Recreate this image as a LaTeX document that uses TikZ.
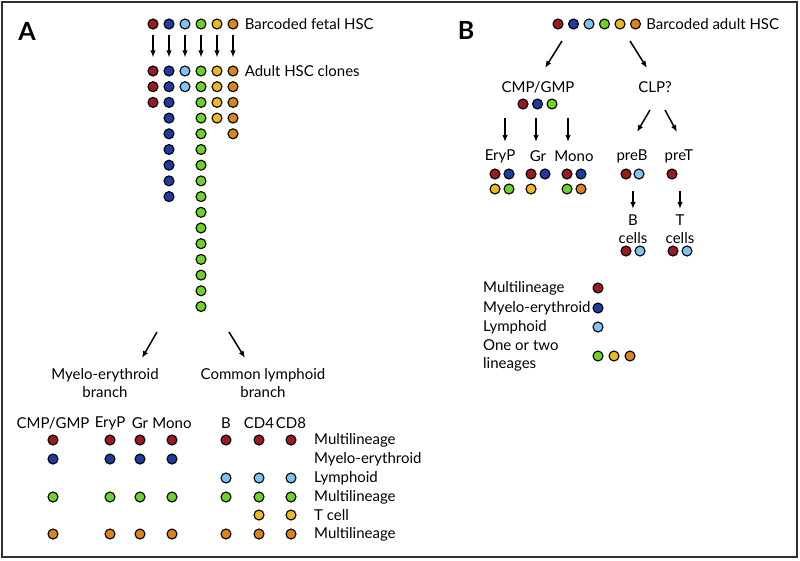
\documentclass[tikz,border=0pt]{standalone}
\usepackage{fontspec}
\setmainfont{Lato}
\usepackage{xcolor}
\usetikzlibrary{positioning, calc, arrows, arrows.meta}

\definecolor{cRed}{HTML}{9A1A22}
\definecolor{cBlue}{HTML}{1D3C9E}
\definecolor{cLBlue}{HTML}{7DC5F0}
\definecolor{cGreen}{HTML}{6CD228}
\definecolor{cYel}{HTML}{EAB920}
\definecolor{cOra}{HTML}{D9841D}
\definecolor{frameg}{HTML}{303030}

\begin{document}
\begin{tikzpicture}[x=1pt, y=-1pt]

		\tikzstyle{dot}=[circle, draw=black, line width=1.1pt, minimum size=10pt, inner sep=0pt]
		\tikzstyle{lbl}=[inner sep=0pt, font=\fontsize{15}{18}\selectfont]
		\tikzstyle{arr}=[-{Latex[length=7pt, width=5.5pt]}, line width=1.5pt]
		\tikzstyle{panel}=[font=\bfseries\fontsize{25}{27}\selectfont, inner sep=0pt]

		\useasboundingbox (0,0) rectangle (800,560);
		\draw [line width=2.4pt, frameg] (2,2) rectangle (797,557);

		%% panel A
		\node (pA) at (27,31) [panel] {A};

		\node (f1) at (153,24) [dot, fill=cRed] {};
		\node (f2) at (169,24) [dot, fill=cBlue] {};
		\node (f3) at (185,24) [dot, fill=cLBlue] {};
		\node (f4) at (201,24) [dot, fill=cGreen] {};
		\node (f5) at (217,24) [dot, fill=cYel] {};
		\node (f6) at (233,24) [dot, fill=cOra] {};
		\node (tfetal) [lbl, right=6pt of f6] {Barcoded fetal HSC};

		\foreach \i in {1,...,3} \node (rd\i) at (153, 55.3+15.7*\i) [dot, fill=cRed] {};
		\foreach \i in {1,...,9} \node (bl\i) at (169, 55.3+15.7*\i) [dot, fill=cBlue] {};
		\foreach \i in {1,...,2} \node (lb\i) at (185, 55.3+15.7*\i) [dot, fill=cLBlue] {};
		\foreach \i in {1,...,16} \node (gr\i) at (201, 55.3+15.7*\i) [dot, fill=cGreen] {};
		\foreach \i in {1,...,4} \node (ye\i) at (217, 55.3+15.7*\i) [dot, fill=cYel] {};
		\foreach \i in {1,...,5} \node (or\i) at (233, 55.3+15.7*\i) [dot, fill=cOra] {};
		\node (tadult) [lbl, right=6pt of or1] {Adult HSC clones};

		\draw [arr, shorten <=5pt, shorten >=8pt] (f1) -- (rd1);
		\draw [arr, shorten <=5pt, shorten >=8pt] (f2) -- (bl1);
		\draw [arr, shorten <=5pt, shorten >=8pt] (f3) -- (lb1);
		\draw [arr, shorten <=5pt, shorten >=8pt] (f4) -- (gr1);
		\draw [arr, shorten <=5pt, shorten >=8pt] (f5) -- (ye1);
		\draw [arr, shorten <=5pt, shorten >=8pt] (f6) -- (or1);

		\coordinate (myS) at (157,332);
		\coordinate (myE) at (142,358);
		\coordinate (clS) at (229,332);
		\coordinate (clE) at (245,358);
		\draw [arr] (myS) -- (myE);
		\draw [arr] (clS) -- (clE);
		\node (tmyelo) at (105,383) [lbl, align=center] {Myelo-erythroid\\branch};
		\node (tclp) at (263,383) [lbl, align=center] {Common lymphoid\\branch};

		%% table
		\node (hCMP) at (53,423) [lbl] {CMP/GMP};
		\node (hEry) at (110,423) [lbl] {EryP};
		\node (hGr) at (140,423) [lbl] {Gr};
		\node (hMono) at (172,423) [lbl] {Mono};
		\node (hB) at (226,423) [lbl] {B};
		\node (hCD4) at (259,423) [lbl] {CD4};
		\node (hCD8) at (291,423) [lbl] {CD8};

		\foreach \x [count=\k] in {53,110,140,172,226,259,291} {
			\node (ta\k) at (\x,440) [dot, fill=cRed] {};
			\node (td\k) at (\x,497) [dot, fill=cGreen] {};
			\node (tf\k) at (\x,534) [dot, fill=cOra] {};
		}
		\foreach \x [count=\k] in {53,110,140,172} \node (tb\k) at (\x,459) [dot, fill=cBlue] {};
		\foreach \x [count=\k] in {226,259,291} \node (tc\k) at (\x,478) [dot, fill=cLBlue] {};
		\foreach \x [count=\k] in {259,291} \node (te\k) at (\x,515) [dot, fill=cYel] {};

		\node (rl1) at (314,440) [lbl, anchor=west] {Multilineage};
		\node (rl2) at (314,459) [lbl, anchor=west] {Myelo-erythroid};
		\node (rl3) at (314,478) [lbl, anchor=west] {Lymphoid};
		\node (rl4) at (314,497) [lbl, anchor=west] {Multilineage};
		\node (rl5) at (314,515) [lbl, anchor=west] {T cell};
		\node (rl6) at (314,534) [lbl, anchor=west] {Multilineage};

		%% panel B
		\node (pB) at (466,30) [panel] {B};

		\node (h1) at (558,24) [dot, fill=cRed] {};
		\node (h2) at (573.5,24) [dot, fill=cBlue] {};
		\node (h3) at (589,24) [dot, fill=cLBlue] {};
		\node (h4) at (604.5,24) [dot, fill=cGreen] {};
		\node (h5) at (620,24) [dot, fill=cYel] {};
		\node (h6) at (635.5,24) [dot, fill=cOra] {};
		\node (tadultB) [lbl, right=5pt of h6] {Barcoded adult HSC};

		\node (tcmp) at (538,87) [lbl] {CMP/GMP};
		\node (tclpB) at (655,87) [lbl] {CLP?};
		\coordinate (cmS) at (562,41);
		\coordinate (cmE) at (545,68);
		\coordinate (clpS) at (630,41);
		\coordinate (clpE) at (647,68);
		\draw [arr] (cmS) -- (cmE);
		\draw [arr] (clpS) -- (clpE);

		\node (g1) at (523,104) [dot, fill=cRed] {};
		\node (g2) at (537.5,104) [dot, fill=cBlue] {};
		\node (g3) at (552,104) [dot, fill=cGreen] {};

		\node (teryp) at (500,156) [lbl] {EryP};
		\node (tgr) at (538,156) [lbl] {Gr};
		\node (tmono) at (574,156) [lbl] {Mono};
		\coordinate (e1) at (505,118);
		\coordinate (e2) at (536,118);
		\coordinate (e3) at (568,118);
		\draw [arr] (e1) -- (e1 |- 0,142);
		\draw [arr] (e2) -- (e2 |- 0,142);
		\draw [arr] (e3) -- (e3 |- 0,142);

		\node (ey1) at (495,174) [dot, fill=cRed] {};
		\node (ey2) at (509,174) [dot, fill=cBlue] {};
		\node (ey3) at (495,189) [dot, fill=cYel] {};
		\node (ey4) at (509,189) [dot, fill=cGreen] {};
		\node (gg1) at (531,174) [dot, fill=cRed] {};
		\node (gg2) at (545,174) [dot, fill=cBlue] {};
		\node (gg3) at (531,189) [dot, fill=cYel] {};
		\node (mo1) at (567,174) [dot, fill=cRed] {};
		\node (mo2) at (581,174) [dot, fill=cBlue] {};
		\node (mo3) at (567,189) [dot, fill=cGreen] {};
		\node (mo4) at (581,189) [dot, fill=cOra] {};

		\node (tpreB) at (632,156) [lbl] {preB};
		\node (tpreT) at (679,156) [lbl] {preT};
		\coordinate (pbS) at (650,110);
		\coordinate (pbE) at (637,132);
		\coordinate (ptS) at (665,110);
		\coordinate (ptE) at (677,132);
		\draw [arr] (pbS) -- (pbE);
		\draw [arr] (ptS) -- (ptE);

		\node (pb1) at (626,174) [dot, fill=cRed] {};
		\node (pb2) at (639,174) [dot, fill=cLBlue] {};
		\node (pt1) at (672,174) [dot, fill=cRed] {};

		\node (tbc) at (633,229) [lbl, align=center] {B\\cells};
		\node (ttc) at (680,229) [lbl, align=center] {T\\cells};
		\coordinate (bS) at (633,191);
		\coordinate (tS) at (680,191);
		\draw [arr] (bS) -- (bS |- 0,209);
		\draw [arr] (tS) -- (tS |- 0,209);

		\node (bc1) at (626,251) [dot, fill=cRed] {};
		\node (bc2) at (640,251) [dot, fill=cLBlue] {};
		\node (tc1) at (673,251) [dot, fill=cRed] {};
		\node (tc2) at (687,251) [dot, fill=cLBlue] {};

		%% legend
		\node (lg1) at (483,288) [lbl, anchor=west] {Multilineage};
		\node (lg2) at (483,308) [lbl, anchor=west] {Myelo-erythroid};
		\node (lg3) at (483,327) [lbl, anchor=west] {Lymphoid};
		\node (lg4) at (483,355) [lbl, anchor=west, align=left] {One or two\\lineages};
		\node (ld1) at (598,288) [dot, fill=cRed] {};
		\node (ld2) at (598,308) [dot, fill=cBlue] {};
		\node (ld3) at (598,327) [dot, fill=cLBlue] {};
		\node (ld4) at (598,356) [dot, fill=cGreen] {};
		\node (ld5) at (614,356) [dot, fill=cYel] {};
		\node (ld6) at (630,356) [dot, fill=cOra] {};

\end{tikzpicture}
\end{document}
